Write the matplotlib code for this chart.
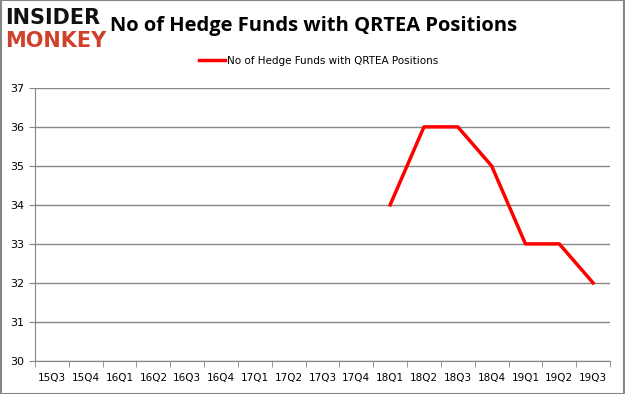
import matplotlib
matplotlib.use("Agg")
import matplotlib.pyplot as plt
import numpy as np

quarters = ["15Q3","15Q4","16Q1","16Q2","16Q3","16Q4","17Q1","17Q2","17Q3","17Q4",
            "18Q1","18Q2","18Q3","18Q4","19Q1","19Q2","19Q3"]
funds = [np.nan]*10 + [34, 36, 36, 35, 33, 33, 32]
series_name = "No of Hedge Funds with QRTEA Positions"
title = "No of Hedge Funds with QRTEA Positions"

fig = plt.figure(figsize=(6.25, 3.94), dpi=100)
ax = fig.add_axes([0.056, 0.084, 0.92, 0.693])

x = np.arange(len(quarters))
ax.plot(x, funds, color="#ff0000", lw=2.5, label=series_name)
ax.set_xlim(-0.5, len(quarters)-0.5)
ax.set_ylim(30, 37)
ax.set_yticks(range(30, 38))
ax.yaxis.grid(True, color="#868686", lw=1)
ax.set_axisbelow(True)
ax.set_xticks(x)
ax.set_xticklabels(quarters, fontsize=7.5, family="DejaVu Sans")
ax.set_xticks(np.arange(-0.5, len(quarters)), minor=True)
ax.tick_params(axis="x", which="major", length=0, pad=9)
ax.tick_params(axis="x", which="minor", length=4, color="#868686")
ax.tick_params(axis="y", length=4, color="#868686", labelsize=8)
for s in ["top", "right"]:
    ax.spines[s].set_visible(False)
for s in ["left", "bottom"]:
    ax.spines[s].set_color("#868686")

leg = fig.legend(loc="center", bbox_to_anchor=(0.51, 0.845), frameon=False,
                 fontsize=7.5, handlelength=2.5, handletextpad=0.2)

fig.text(0.176, 0.935, title, fontsize=14.5, fontweight="bold", family="Open Sans",
         va="center", ha="left")
fig.text(0.008, 0.955, "INSIDER", fontsize=15, fontweight="black", family="DejaVu Sans",
         color="#111111", va="center", ha="left")
fig.text(0.008, 0.895, "MONKEY", fontsize=15, fontweight="black", family="DejaVu Sans",
         color="#d0402a", va="center", ha="left")

fig.patches.append(plt.Rectangle((0.001, 0.001), 0.998, 0.998, transform=fig.transFigure,
                                 fill=False, edgecolor="#868686", lw=1.5))
fig.savefig("out.png", dpi=100)
